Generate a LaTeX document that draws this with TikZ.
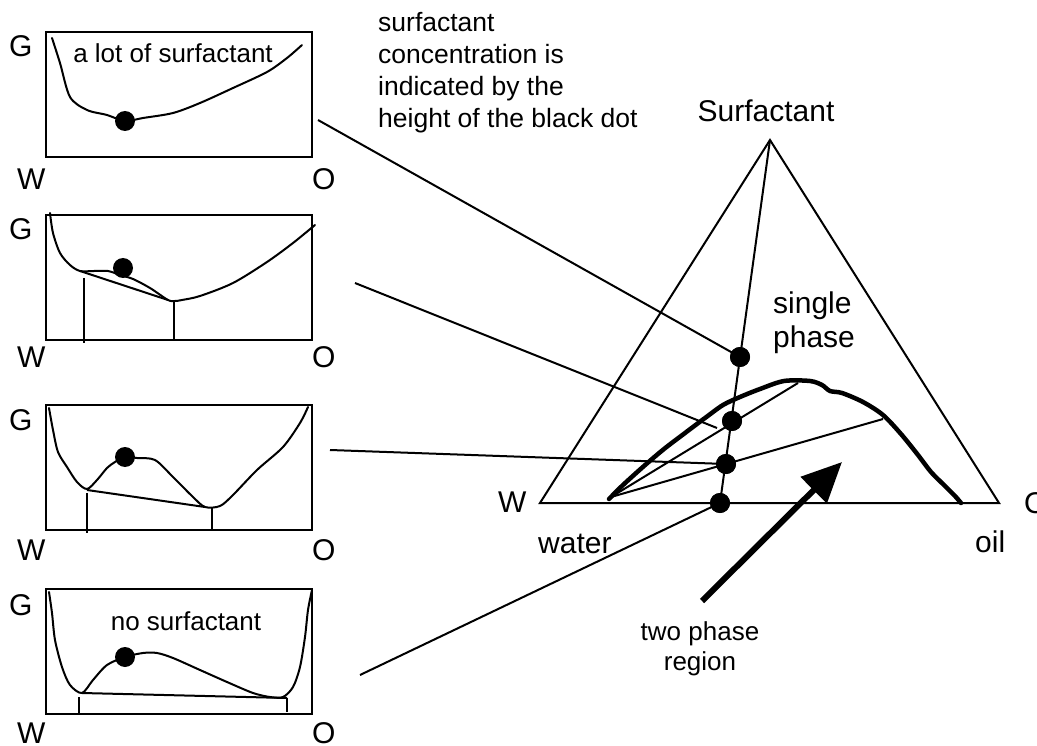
\documentclass[tikz,border=0pt]{standalone}
\usepackage{fontspec}
\setmainfont{Liberation Sans}
\usetikzlibrary{arrows.meta}
\begin{document}
\begin{tikzpicture}[x=1pt,y=-1pt,
  panelbox/.style={draw, line width=2.5pt},
  gcurve/.style={line width=2pt, line join=round, line cap=round},
  thinline/.style={line width=2pt},
  boundary/.style={line width=4.5pt, line join=round, line cap=round},
  blackdot/.style={circle, fill=black, inner sep=0pt, minimum size=20pt},
  plbl/.style={inner sep=0pt, font=\fontsize{30}{34}\selectfont},
  tlbl/.style={inner sep=0pt, font=\fontsize{30}{34}\selectfont},
  ptxt/.style={inner sep=0pt, font=\fontsize{26}{31}\selectfont},
  ntxt/.style={inner sep=0pt, font=\fontsize{26.5}{31}\selectfont},
]
\useasboundingbox (0,0) rectangle (1037,746);

% ---------- panel 1 ----------
\draw[panelbox] (46,32) rectangle (312,157);
\draw[gcurve] plot[smooth,tension=0.5] coordinates {(52,38) (60,63) (70,97) (87,110) (107,115) (125,121) (143,118) (173,113) (200,103) (233,88) (267,72) (287,58) (302,45)};
\node[blackdot] (p1dot) at (125,121) {};
\node[ptxt, anchor=base] (p1txt) at (173,63) {a lot of surfactant};
\node[plbl, anchor=base west] (p1G) at (9,57) {G};
\node[plbl, anchor=base west] (p1W) at (17,190) {W};
\node[plbl, anchor=base west] (p1O) at (312,190) {O};

% ---------- panel 2 ----------
\draw[panelbox] (46,215) rectangle (312,340);
\draw[gcurve] plot[smooth,tension=0.5] coordinates {(50,213) (53,233) (60,253) (70,265) (80,271) (94,271) (108,271) (120,275) (133,279) (150,288) (168,300) (175,301) (182,300) (200,296) (233,283) (267,262) (293,243) (315,225)};
\draw[thinline] (80,271) -- (168,300);
\draw[thinline] (84,278) -- (84,343);
\draw[thinline] (174,300) -- (174,340);
\node[blackdot] (p2dot) at (123,268) {};
\node[plbl, anchor=base west] (p2G) at (9,240) {G};
\node[plbl, anchor=base west] (p2W) at (17,367) {W};
\node[plbl, anchor=base west] (p2O) at (312,367) {O};

% ---------- panel 3 ----------
\draw[panelbox] (46,405) rectangle (312,530);
\draw[gcurve] plot[smooth,tension=0.5] coordinates {(49,408) (53,430) (58,452) (67,467) (77,482) (87,489) (97,480) (107,468) (115,462) (125,457) (137,458) (155,460) (173,477) (193,497) (205,507) (220,506) (233,495) (257,470) (283,447) (300,423) (308,407)};
\draw[thinline] (87,490) -- (205,507);
\draw[thinline] (87,493) -- (87,533);
\draw[thinline] (212,508) -- (212,530);
\node[blackdot] (p3dot) at (125,457) {};
\node[plbl, anchor=base west] (p3G) at (9,430) {G};
\node[plbl, anchor=base west] (p3W) at (17,560) {W};
\node[plbl, anchor=base west] (p3O) at (312,560) {O};

% ---------- panel 4 ----------
\draw[panelbox] (46,589) rectangle (312,714);
\draw[gcurve] plot[smooth,tension=0.5] coordinates {(49,592) (52,613) (55,640) (62,667) (70,685) (82,693) (93,680) (107,665) (125,657) (143,653) (157,653) (173,658) (200,670) (227,682) (253,693) (270,697) (283,697) (293,687) (300,667) (305,637) (308,610) (312,590)};
\draw[thinline] (82,693) -- (287,698);
\draw[thinline] (79,697) -- (79,714);
\draw[thinline] (287,698) -- (287,712);
\node[blackdot] (p4dot) at (125,657) {};
\node[ptxt, anchor=base] (p4txt) at (186,630) {no surfactant};
\node[plbl, anchor=base west] (p4G) at (9,615) {G};
\node[plbl, anchor=base west] (p4W) at (17,743) {W};
\node[plbl, anchor=base west] (p4O) at (312,743) {O};

% ---------- note ----------
\node[ntxt, anchor=base west] (note1) at (378,32) {surfactant};
\node[ntxt, anchor=base west] (note2) at (378,64) {concentration is};
\node[ntxt, anchor=base west] (note3) at (378,96) {indicated by the};
\node[ntxt, anchor=base west] (note4) at (378,128) {height of the black dot};

% ---------- triangle ----------
\coordinate (TW) at (540,503);
\coordinate (TO) at (999,503);
\coordinate (TS) at (770,140);
\draw[thinline, line join=miter] (TW) -- (TS) -- (TO) -- cycle;

\node[blackdot] (D1) at (740,357) {};
\node[blackdot] (D2) at (732,421) {};
\node[blackdot] (D3) at (726,464) {};
\node[blackdot] (D4) at (720,503) {};
\draw[thinline] (TS) -- (D4.center);

% two-phase boundary
\draw[boundary] plot[smooth,tension=0.5] coordinates {(609,499) (623,485) (644,466) (664,449) (685,433) (705,418) (723,405) (740,397) (760,389) (784,381) (810,381) (822,385) (830,391) (842,393) (863,402) (883,415) (901,434) (918,455) (931,472) (945,486) (955,496) (961,503)};

% tie lines
\coordinate (TL0) at (611,497);
\coordinate (TL1) at (798,383);
\coordinate (TL2) at (883,419);
\draw[thinline] (TL0) -- (TL1);
\draw[thinline] (TL0) -- (TL2);

% connectors
\coordinate (c1) at (318,120);
\coordinate (c2) at (355,283);
\coordinate (c2e) at (717,428);
\coordinate (c3) at (330,450);
\coordinate (c4) at (360,675);
\draw[thinline] (c1) -- (D1.center);
\draw[thinline] (c2) -- (c2e);
\draw[thinline] (c3) -- (D3.center);
\draw[thinline] (c4) -- (D4.center);

% redraw dots on top
\foreach \d in {D1,D2,D3,D4} \fill (\d) circle (10pt);

% arrow
\coordinate (arT) at (702,601);
\coordinate (arH) at (842,462);
\draw[line width=6pt, -{Triangle[length=40pt,width=36pt]}] (arT) -- (arH);

% labels
\node[tlbl, anchor=base] (lblS) at (766,122) {Surfactant};
\node[tlbl, anchor=base west] (lblW) at (498,512) {W};
\node[tlbl, anchor=base west] (lblO) at (1024,513) {O};
\node[tlbl, anchor=base west] (lblwater) at (538,553) {water};
\node[tlbl, anchor=base west] (lbloil) at (975,552) {oil};
\node[tlbl, anchor=base west] (lblsingle) at (773,313) {single};
\node[tlbl, anchor=base west] (lblphase) at (773,348) {phase};
\node[ptxt, anchor=base] (lbltwo) at (700,640) {two phase};
\node[ptxt, anchor=base] (lblregion) at (700,670) {region};
\end{tikzpicture}
\end{document}
